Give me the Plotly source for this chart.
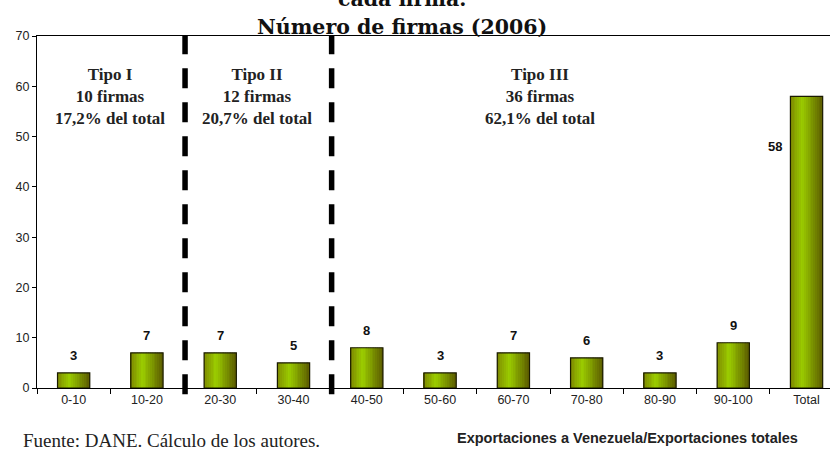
import plotly.graph_objects as go

categories = ["0-10", "10-20", "20-30", "30-40", "40-50", "50-60",
              "60-70", "70-80", "80-90", "90-100", "Total"]
firmas = [3, 7, 7, 5, 8, 3, 7, 6, 3, 9, 58]
y_ticks = [0, 10, 20, 30, 40, 50, 60, 70]

tipos = [
    ("Tipo I<br>10 firmas<br>17,2% del total", 0.5),
    ("Tipo II<br>12 firmas<br>20,7% del total", 2.5),
    ("Tipo III<br>36 firmas<br>62,1% del total", 6.36),
]
separators = [1.5, 3.5]

BAR_W = 0.44
N_STRIPS = 18
stops = [(0.0, (125, 135, 0)), (0.38, (155, 205, 0)), (1.0, (92, 92, 0))]


def grad(t):
    for (t0, c0), (t1, c1) in zip(stops[:-1], stops[1:]):
        if t0 <= t <= t1:
            f = (t - t0) / (t1 - t0)
            return "rgb(%d,%d,%d)" % tuple(round(a + (b - a) * f) for a, b in zip(c0, c1))
    return "rgb(%d,%d,%d)" % stops[-1][1]


fig = go.Figure()
sw = BAR_W / N_STRIPS
for i in range(N_STRIPS):
    fig.add_trace(go.Bar(
        x=categories, y=firmas, width=sw * 1.08, offset=-BAR_W / 2 + i * sw,
        marker=dict(color=grad((i + 0.5) / N_STRIPS), line=dict(width=0)),
        showlegend=False, hoverinfo="skip"))
fig.add_trace(go.Bar(
    x=categories, y=firmas, width=BAR_W,
    marker=dict(color="rgba(0,0,0,0)", line=dict(color="#1a1a00", width=1.2)),
    showlegend=False))

for s in separators:
    fig.add_shape(type="line", xref="x", yref="paper", x0=s + 0.02, x1=s + 0.02, y0=-0.018, y1=1,
                  line=dict(color="black", width=5.5, dash="20px,14px"))

label_font = dict(family="Liberation Sans, Arial", size=13, color="#111", weight="bold")
for c, v in zip(categories, firmas):
    if c == "Total":
        fig.add_annotation(x=c, y=v, text=str(v), showarrow=False, xshift=-32, yshift=-50,
                           font=label_font)
    else:
        fig.add_annotation(x=c, y=v, text=str(v), showarrow=False, yshift=17,
                           font=label_font)

serif_b = dict(family="Liberation Serif, Times New Roman, serif", size=17, color="#222", weight="bold")
for txt, xc in tipos:
    fig.add_annotation(x=xc, y=58, text=txt, showarrow=False, yanchor="middle",
                       font=serif_b, align="center")

title_font = dict(family="DejaVu Serif, serif", size=20.5, color="#111", weight="bold")
fig.add_annotation(xref="paper", yref="paper", x=0.46, y=1, yshift=37, text="cada firma.",
                   showarrow=False, font=title_font, xanchor="center", yanchor="middle")
fig.add_annotation(xref="paper", yref="paper", x=0.46, y=1, yshift=9, text="Número de firmas (2006)",
                   showarrow=False, font=title_font, xanchor="center", yanchor="middle")

fig.add_annotation(xref="paper", yref="paper", x=0.745, y=0, yshift=-50,
                   text="Exportaciones a Venezuela/Exportaciones totales", showarrow=False,
                   font=dict(family="Liberation Sans, Arial", size=14.5, color="#222", weight="bold"),
                   xanchor="center", yanchor="middle")
fig.add_annotation(xref="paper", yref="paper", x=0, xshift=-16, y=0, yshift=-52,
                   text="Fuente: DANE. Cálculo de los autores.", showarrow=False,
                   font=dict(family="Liberation Serif, Times New Roman, serif", size=19, color="#222"),
                   xanchor="left", yanchor="middle")

fig.update_layout(
    width=830, height=452,
    margin=dict(l=37, r=0, t=36, b=64),
    paper_bgcolor="white", plot_bgcolor="white",
    barmode="overlay", showlegend=False,
    xaxis=dict(type="category", categoryorder="array", categoryarray=categories,
               range=[-0.5, 10.32], showline=True, linecolor="black", linewidth=1.2,
               mirror=True, ticks="outside", tickson="boundaries", ticklen=5,
               tickcolor="black", showgrid=False, automargin=False,
               tickfont=dict(family="Liberation Sans, Arial", size=12.5, color="#222")),
    yaxis=dict(range=[0, 70], tickvals=y_ticks, showline=True, linecolor="black",
               linewidth=1.2, ticks="outside", ticklen=4, tickcolor="black",
               showgrid=False, zeroline=False, automargin=False,
               tickfont=dict(family="Liberation Sans, Arial", size=12.5, color="#222")),
)

fig.write_html("out.html", config={"displayModeBar": False},
               post_script="document.body.style.margin='0';document.body.style.overflow='hidden';")
